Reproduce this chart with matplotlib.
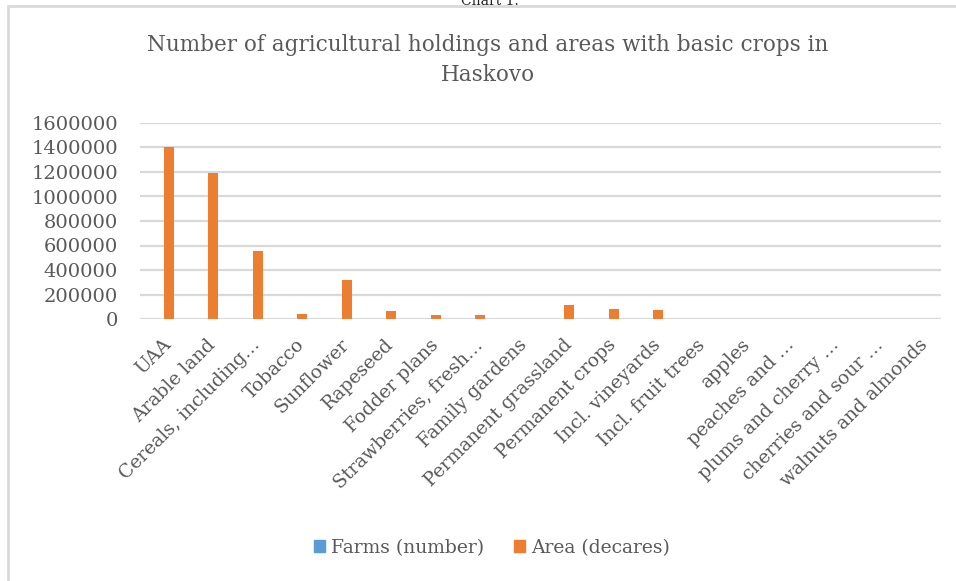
import matplotlib
matplotlib.use("Agg")
import matplotlib.pyplot as plt
from matplotlib.patches import Rectangle, Patch
import numpy as np

categories = ["UAA", "Arable land", "Cereals, including…", "Tobacco", "Sunflower",
              "Rapeseed", "Fodder plans", "Strawberries, fresh…", "Family gardens",
              "Permanent grassland", "Permanent crops", "Incl. vineyards",
              "Incl. fruit trees", "apples", "peaches and …", "plums and cherry …",
              "cherries and sour …", "walnuts and almonds"]
farms = [1500, 1200, 900, 600, 700, 150, 200, 100, 900, 400, 600, 450, 300, 80, 60, 70, 50, 40]
area = [1400000, 1190000, 558000, 42000, 316000, 62000, 32000, 30000, 2000,
        113000, 85000, 72000, 2500, 1500, 1200, 1300, 900, 1100]
yticks = [0, 200000, 400000, 600000, 800000, 1000000, 1200000, 1400000, 1600000]

W, H = 956, 581
fig = plt.figure(figsize=(W/100, H/100), dpi=100)
plt.rcParams['font.family'] = ['DejaVu Serif']
txt = '#595959'

# outer chart border (extends beyond image at right/bottom)
fig.patches.append(Rectangle((8/W, -0.1), 1.2, 1 - 6/H + 0.1, transform=fig.transFigure,
                             fill=False, edgecolor='#d9d9d9', linewidth=2))
fig.text(490/W, 1 - 1/H, "Chart 1.", ha='center', va='center', fontsize=10, color='#222222')

ax = fig.add_axes([140/W, 1 - 319/H, 801/W, 196/H])
x = np.arange(len(categories))
ax.bar(x - 0.08, farms, width=0.22, color='#5b9bd5', label='Farms (number)')
ax.bar(x + 0.145, area, width=0.22, color='#ed7d31', label='Area (decares)')
ax.set_xlim(-0.5, len(categories) - 0.5)
ax.set_ylim(0, 1600000)
ax.set_yticks(yticks)
ax.set_yticklabels([str(v) for v in yticks], fontsize=14, color=txt)
ax.yaxis.grid(True, color='#d9d9d9', linewidth=1.6)
ax.set_axisbelow(True)
for s in ax.spines.values():
    s.set_visible(False)
ax.tick_params(axis='y', length=0, pad=16)
ax.tick_params(axis='x', length=0, pad=12)
ax.set_xticks(x)
ax.set_xticklabels(categories, rotation=45, ha='right', rotation_mode='anchor',
                   fontsize=13.5, color=txt)

fig.text(488/W, 1 - 60/H, "Number of agricultural holdings and areas with basic crops in\nHaskovo",
         ha='center', va='center', fontsize=15.5, color=txt, linespacing=1.5)

handles = [Patch(color='#5b9bd5', label='Farms (number)'),
           Patch(color='#ed7d31', label='Area (decares)')]
fig.legend(handles=handles, loc='center', bbox_to_anchor=(492/W, 1 - 548/H), ncol=2,
           frameon=False, fontsize=13.5, handlelength=0.6, handleheight=0.6,
           handletextpad=0.3, columnspacing=1.6, labelcolor=txt)

fig.savefig("out.png", dpi=100)
